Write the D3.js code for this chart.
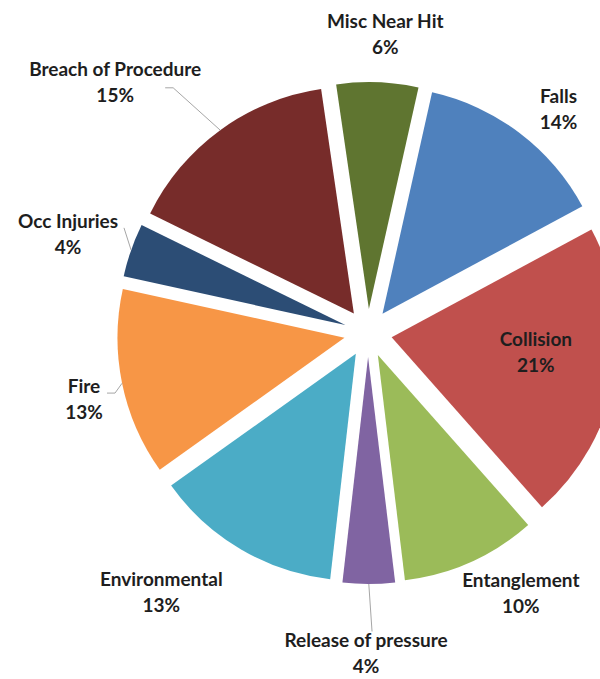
<!DOCTYPE html>
<html>
<head>
<meta charset="utf-8">
<script src="https://d3js.org/d3.v7.min.js"></script>
<style>
  html, body { margin: 0; padding: 0; background: #fff; }
  svg { display: block; }
</style>
</head>
<body>
<div id="chart"></div>
<script>
// ---- data ----
const categories = ["Misc Near Hit", "Falls", "Collision", "Entanglement", "Release of pressure",
                    "Environmental", "Fire", "Occ Injuries", "Breach of Procedure"];
const values = [5.8, 13.6, 21.3, 9.6, 3.7, 13.3, 13.3, 3.8, 15.4];

// ---- style / layout ----
const colors = ["#5F7530", "#4F81BD", "#C0504D", "#9BBB59", "#8064A2",
                "#4BACC6", "#F79646", "#2C4D75", "#772C2A"];
// label centre in polar form (degrees clockwise from 12 o'clock, radius from pie centre)
const labelAngle  = [3.3, 40.4, 96.6, 149.6, 180.35, 218.5, 256.9, 288.2, 314.7];
const labelRadius = [299, 294, 169, 302, 320.5, 332, 291.6, 315.8, 355.7];
// leader lines: [start dx, start dy, horizontal elbow length] relative to label centre, null = none
const leaders = [null, null, null, null, [6, -22, 0], null, [23, -6, 8], [56, -6.5, 0], [50, 5, 8]];

const W = 600, H = 679;
const cx = 368, cy = 333, R = 227, explode = 24;
const fontSize = 19, lineH = 26;

const svg = d3.select("#chart").append("svg")
  .attr("width", W).attr("height", H);

const rad = d => d * Math.PI / 180;
const pie = d3.pie().sort(null).value(d => d.value)
  .startAngle(rad(-8.3)).endAngle(rad(351.7));
const arc = d3.arc().innerRadius(0).outerRadius(R);

const data = categories.map((c, i) => ({ name: c, value: values[i], i }));
const arcs = pie(data);
const total = d3.sum(values);
const pct = d3.format(".0%");

const g = svg.append("g").attr("transform", `translate(${cx},${cy})`);

const off = a => {
  const m = (a.startAngle + a.endAngle) / 2;
  return [explode * Math.sin(m), -explode * Math.cos(m)];
};

g.selectAll("path.slice").data(arcs).enter().append("path")
  .attr("class", "slice")
  .attr("d", arc)
  .attr("fill", d => colors[d.data.i])
  .attr("transform", d => { const o = off(d); return `translate(${o[0]},${o[1]})`; });

// labels
const labG = g.append("g").attr("font-family", "Lato, 'Open Sans', sans-serif")
  .attr("font-weight", "bold").attr("font-size", fontSize).attr("fill", "#1e1e1e");

arcs.forEach(d => {
  const i = d.data.i;
  const a = rad(labelAngle[i]);
  const lx = labelRadius[i] * Math.sin(a);
  const ly = -labelRadius[i] * Math.cos(a);
  const t = labG.append("text").attr("text-anchor", "middle");
  t.append("tspan").attr("x", lx).attr("y", ly - lineH / 2 + fontSize * 0.35).text(d.data.name);
  t.append("tspan").attr("x", lx).attr("y", ly + lineH / 2 + fontSize * 0.35).text(pct(d.data.value / total));

  const L = leaders[i];
  if (L) {
    const o = off(d);
    const m = (d.startAngle + d.endAngle) / 2;
    const end = [o[0] + R * Math.sin(m), o[1] - R * Math.cos(m)];
    const s = [lx + L[0], ly + L[1]];
    const pts = [s];
    if (L[2]) pts.push([s[0] + L[2], s[1]]);
    pts.push(end);
    g.append("path").attr("d", d3.line()(pts))
      .attr("fill", "none").attr("stroke", "#A6A6A6").attr("stroke-width", 1);
  }
});
</script>
</body>
</html>
